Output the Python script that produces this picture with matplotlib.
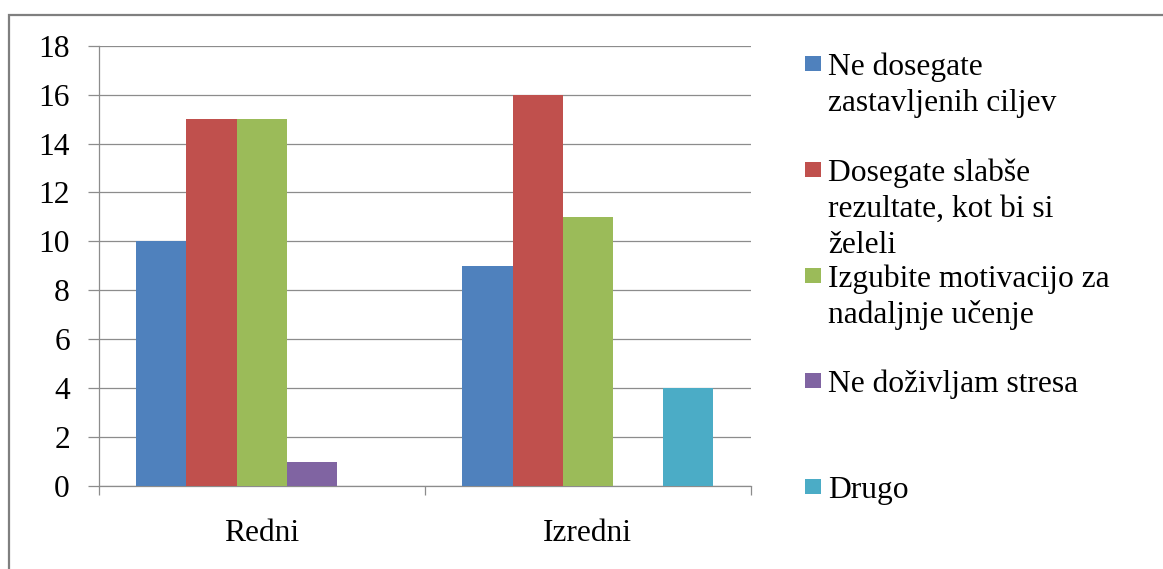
import matplotlib
matplotlib.use("Agg")
import matplotlib.pyplot as plt
from matplotlib.patches import Rectangle
import numpy as np

# Data
categories = ["Redni", "Izredni"]
series_labels = [
    "Ne dosegate\nzastavljenih ciljev",
    "Dosegate slabše\nrezultate, kot bi si\nželeli",
    "Izgubite motivacijo za\nnadaljnje učenje",
    "Ne doživljam stresa",
    "Drugo",
]
ne_dosegate = [10, 9]
dosegate_slabse = [15, 16]
izgubite_motivacijo = [15, 11]
ne_dozivljam = [1, 0]
drugo = [0, 4]
series_values = [ne_dosegate, dosegate_slabse, izgubite_motivacijo, ne_dozivljam, drugo]
colors = ["#4F81BD", "#C0504D", "#9BBB59", "#8064A2", "#4BACC6"]
y_ticks = [0, 2, 4, 6, 8, 10, 12, 14, 16, 18]

plt.rcParams["font.family"] = ["Liberation Serif", "DejaVu Serif"]
FS = 22.7
GRAY = "#8c8c8c"

W, H = 1163, 569
fig = plt.figure(figsize=(W / 100, H / 100), dpi=100)
ax = fig.add_axes([98.5 / W, 1 - 486 / H, (751 - 98.5) / W, (486 - 45.7) / H])

n = len(series_values)
gap = 1.5
bw = 1.0 / (n + gap)
x = np.arange(len(categories))
for i, (vals, col) in enumerate(zip(series_values, colors)):
    ax.bar(x + (i - (n - 1) / 2) * bw, vals, width=bw, color=col,
           linewidth=0, zorder=3)

ax.set_xlim(-0.5, len(categories) - 0.5)
ax.set_ylim(0, 18)
ax.set_yticks(y_ticks)
ax.set_yticklabels([str(t) for t in y_ticks], fontfamily="Liberation Serif")
ax.yaxis.grid(True, color=GRAY, linewidth=0.9, zorder=0)
ax.set_axisbelow(True)

# category boundaries as major ticks, labels centred on minor ticks
ax.set_xticks(np.arange(-0.5, len(categories), 1.0))
ax.set_xticklabels([])
ax.set_xticks(x, minor=True)
ax.set_xticklabels(categories, minor=True, fontsize=FS, fontfamily="Liberation Serif")
ax.tick_params(axis="x", which="major", length=6.5, width=0.9, color=GRAY, direction="out")
ax.tick_params(axis="x", which="minor", length=0, pad=24)
ax.tick_params(axis="y", length=7.6, width=0.9, color=GRAY, pad=13, labelsize=FS)

for s in ["top", "right"]:
    ax.spines[s].set_visible(False)
for s in ["left", "bottom"]:
    ax.spines[s].set_color(GRAY)
    ax.spines[s].set_linewidth(0.9)

# Legend on the right
for i, (label, col) in enumerate(zip(series_labels, colors)):
    base = 75 + 105.8 * i
    fig.patches.append(Rectangle((805 / W, 1 - (base - 4) / H), 16 / W, 15 / H,
                                 transform=fig.transFigure, facecolor=col,
                                 edgecolor="none"))
    for j, line in enumerate(label.split("\n")):
        fig.text(828 / W, 1 - (base + 36 * j) / H, line, ha="left",
                 va="baseline", fontsize=FS, color="black")

# Outer chart frame
fig.patches.append(Rectangle((9 / W, -0.5), 2.0, (1 - 14.5 / H) + 0.5,
                             transform=fig.transFigure, fill=False,
                             edgecolor="#7f7f7f", linewidth=1.6))

fig.savefig("out.png", dpi=100)
